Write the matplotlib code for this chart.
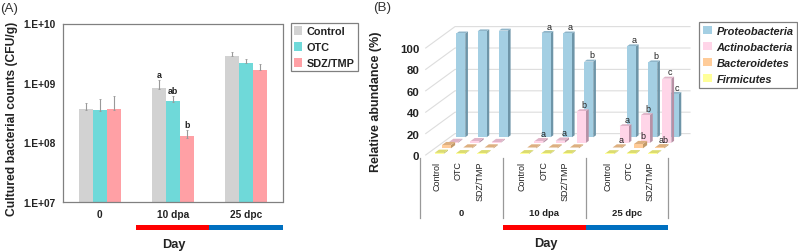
import matplotlib
matplotlib.use("Agg")
import matplotlib.pyplot as plt
from matplotlib.patches import Rectangle, Polygon, Patch
from matplotlib.lines import Line2D

W, H = 798, 253
plt.rcParams['font.family'] = ['Liberation Sans', 'DejaVu Sans']

# ---- Panel A data
days_a = ['0', '10 dpa', '25 dpc']
control = [3.5e8, 8.0e8, 2.8e9]
otc = [3.4e8, 4.8e8, 2.16e9]
sdz = [3.5e8, 1.2e8, 1.65e9]
control_top = [4.6e8, 1.12e9, 3.35e9]
otc_top = [5.4e8, 6.0e8, 2.5e9]
sdz_top = [6.0e8, 1.6e8, 2.05e9]
letters_a = {(0, 1): 'a', (1, 1): 'ab', (2, 1): 'b'}
yticks_a = [1e7, 1e8, 1e9, 1e10]
yticklabels_a = ['1.E+07', '1.E+08', '1.E+09', '1.E+10']
treatments = ['Control', 'OTC', 'SDZ/TMP']

# ---- Panel B data (slots: 0-2, 4-6, 8-10)
slots = [0, 1, 2, 4, 5, 6, 8, 9, 10]
slot_labels = ['Control', 'OTC', 'SDZ/TMP'] * 3
groups_b = ['0', '10 dpa', '25 dpc']
proteo = [97, 99, 99.7, 97.5, 97, 70.7, 85, 70, 40.5]
actino = [0.8, 1.5, 0.7, 1.5, 2, 29.6, 15.6, 26, 60]
bactero = [3, 0.8, 0.8, 0.8, 0.8, 0.8, 0.8, 4, 1]
firmi = [1, 0.6, 0.6, 0.6, 0.6, 0.6, 0.5, 0.6, 0.5]
letters_proteo = ['', '', '', 'a', 'a', 'b', 'a', 'b', 'c']
letters_actino = ['', '', '', 'a', 'a', 'b', 'a', 'b', 'c']
letters_bactero = ['', '', '', '', '', '', 'a', 'b', 'ab']
phyla = ['Proteobacteria', 'Actinobacteria', 'Bacteroidetes', 'Firmicutes']
yticks_b = [0, 20, 40, 60, 80, 100]

TXT = '#222222'
GREY = '#808080'


def fx(x):
    return x / W


def fy(y):
    return 1 - y / H


def axes_px(fig, x0, y0, x1, y1):
    return fig.add_axes([fx(x0), fy(y1), (x1 - x0) / W, (y1 - y0) / H])


def ftext(fig, x, y, s, **kw):
    kw.setdefault('ha', 'center')
    kw.setdefault('va', 'center')
    kw.setdefault('color', TXT)
    fig.text(fx(x), fy(y), s, **kw)


def frect(fig, x0, y0, x1, y1, c):
    fig.add_artist(Rectangle((fx(x0), fy(y1)), (x1 - x0) / W, (y1 - y0) / H,
                             transform=fig.transFigure, facecolor=c, edgecolor='none'))


fig = plt.figure(figsize=(W / 100, H / 100), dpi=100)

# ===== Panel A
ax = axes_px(fig, 63, 24.5, 282.5, 203)
cols_a = ['#D2D2D2', '#6FD9D9', '#FFA0A5']
width = 14 / 73
for k, (vals, tops, c) in enumerate(zip([control, otc, sdz],
                                        [control_top, otc_top, sdz_top], cols_a)):
    xs = [i + (k - 1) * width for i in range(3)]
    ax.bar(xs, vals, width=width, color=c, bottom=1e7, zorder=2, label=treatments[k])
    errs = [t - v for t, v in zip(tops, vals)]
    ax.errorbar(xs, vals, yerr=[[0] * 3, errs], fmt='none', ecolor='#999999',
                elinewidth=0.8, capsize=1, capthick=0.6, zorder=3)
    for i in range(3):
        if (k, i) in letters_a:
            ax.annotate(letters_a[(k, i)], (xs[i], tops[i]), xytext=(0, 1), textcoords='offset points',
                        ha='center', va='bottom', fontsize=6.4, fontweight='bold', color=TXT)
ax.set_yscale('log')
ax.set_ylim(1e7, 1e10)
ax.set_xlim(-0.5, 2.5)
ax.set_yticks(yticks_a, yticklabels_a, fontsize=7.3, fontweight='bold', color=TXT)
ax.minorticks_off()
ax.set_xticks(range(3), days_a, fontsize=7.3, fontweight='bold', color=TXT)
ax.tick_params(length=0, pad=5)
for s in ax.spines.values():
    s.set_color(GREY)
    s.set_linewidth(0.9)
ax.set_ylabel('Cultured bacterial counts (CFU/g)', fontsize=8.7, fontweight='bold', color=TXT, labelpad=4.5, y=0.47)

h, l = ax.get_legend_handles_labels()
leg = fig.legend(h, l, loc='upper left', bbox_to_anchor=(fx(291), fy(24)), borderaxespad=0,
                 fancybox=False, edgecolor=GREY, framealpha=1, prop={'size': 7.8, 'weight': 'bold'},
                 handlelength=0.75, handleheight=0.8, handletextpad=0.4, labelspacing=0.55,
                 borderpad=0.3, labelcolor=TXT)
leg.get_frame().set_linewidth(0.9)

ftext(fig, 9, 9, '(A)', fontsize=9.6, color='#333333')
ftext(fig, 174, 245, 'Day', fontsize=9.2, fontweight='bold')
frect(fig, 136, 226, 209, 231, '#FF0000')
frect(fig, 209, 226, 283, 231, '#0070C0')

# ===== Panel B (pseudo-3D, drawn by oblique projection)
SLOT = 64 / 3
X0 = 434.7
ab = axes_px(fig, 425, 156 - 128.4, 690, 156)
ab.set_xlim((425 - X0) / SLOT, (690 - X0) / SLOT)
ab.set_ylim(0, 120)
ab.patch.set_alpha(0)
for s in ab.spines.values():
    s.set_visible(False)

front_x, back_x = (425.7 - X0) / SLOT, (455 - X0) / SLOT
xmax = (690 - X0) / SLOT
for v in yticks_b:
    ab.plot([front_x, back_x, xmax], [v, v + 20, v + 20], color='#DDDDDD', lw=0.8, zorder=0, clip_on=False)

ab.set_yticks(yticks_b, [str(v) for v in yticks_b], fontsize=8.2, fontweight='bold', color=TXT)
ab.set_xticks([s + 0.11 for s in slots], slot_labels, rotation=90, fontsize=6.5, color=TXT)
ab.tick_params(length=0)
ab.tick_params(axis='y', pad=4)
ab.tick_params(axis='x', pad=4)

bw = 0.42
sx = 0.125
sy = 1.8
small_sx = 0.2
small_sy = 3.0
step_x = 0.3375
step_y = 5.2
series = [  # back to front
    (3, proteo, '#A4CFE3', '#6E95A8', '#8FB5C9', letters_proteo),
    (2, actino, '#FFD5E8', '#B890A5', '#E0B4C8', letters_actino),
    (1, bactero, '#FFCC99', '#C39A68', '#DDB080', letters_bactero),
    (0, firmi, '#FFFF99', '#BDBD60', '#DCDC70', None),
]
z = 2
for depth, vals, c, side, topc, letts in series:
    base = 1 + depth * step_y
    for i, (s, v) in enumerate(zip(slots, vals)):
        x = s + depth * step_x
        top = base + v
        dx, dy = (small_sx, small_sy) if v < 5 else (sx, sy)
        ab.add_patch(Polygon([(x + bw, base), (x + bw + dx, base + dy), (x + bw + dx, top + dy), (x + bw, top)],
                             facecolor=side, edgecolor='none', zorder=z, clip_on=False))
        ab.add_patch(Polygon([(x, top), (x + dx, top + dy), (x + bw + dx, top + dy), (x + bw, top)],
                             facecolor=topc, edgecolor='none', zorder=z, clip_on=False))
        ab.bar(x + bw / 2, v, width=bw, bottom=base, color=c, zorder=z + 0.1, clip_on=False)
        if letts and letts[i]:
            ab.text(x + bw / 2 + dx, top + dy + 0.4, letts[i], ha='center', va='bottom', fontsize=6.5,
                    color=TXT, zorder=20, clip_on=False)
    z += 1

handles = [Patch(facecolor=s[2], edgecolor='none', label=p) for s, p in zip(series, phyla)]
legb = fig.legend(handles=handles, loc='upper left', bbox_to_anchor=(fx(699), fy(23)), borderaxespad=0,
                  fancybox=False, edgecolor=GREY, framealpha=1,
                  prop={'size': 7.9, 'weight': 'bold', 'style': 'italic'},
                  handlelength=0.85, handleheight=0.8, handletextpad=0.4, labelspacing=0.55,
                  borderpad=0.35, labelcolor=TXT)
legb.get_frame().set_linewidth(0.9)

ftext(fig, 382, 8, '(B)', fontsize=9.6, color='#333333')
ftext(fig, 376, 102, 'Relative abundance (%)', rotation=90, fontsize=9, fontweight='bold')
for xp in [420, 503, 585.5, 668]:
    fig.add_artist(Line2D([fx(xp)] * 2, [fy(159), fy(219)], color='#999999', lw=0.9, transform=fig.transFigure))
for xp, g in zip([461, 544, 627], groups_b):
    ftext(fig, xp, 214, g, fontsize=6.8, fontweight='bold')
ftext(fig, 546, 244, 'Day', fontsize=9.2, fontweight='bold')
frect(fig, 503, 226, 585.5, 231, '#FF0000')
frect(fig, 585.5, 226, 668, 231, '#0070C0')

fig.savefig('out.png', dpi=100)
